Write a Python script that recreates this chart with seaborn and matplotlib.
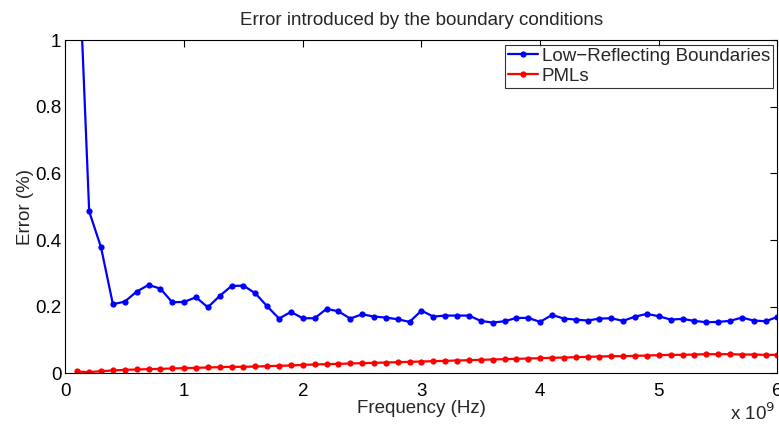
import numpy as np
import pandas as pd
import matplotlib
matplotlib.use("Agg")
import matplotlib.pyplot as plt
import seaborn as sns
from matplotlib.ticker import FuncFormatter, MultipleLocator

freq_ghz = [round(0.1 * i, 1) for i in range(1, 61)]
low_reflecting = [
    1.36, 0.486, 0.378, 0.207, 0.215, 0.245, 0.265, 0.254, 0.213, 0.214,
    0.228, 0.198, 0.232, 0.262, 0.263, 0.240, 0.201, 0.164, 0.184, 0.165,
    0.165, 0.193, 0.186, 0.164, 0.177, 0.170, 0.167, 0.162, 0.154, 0.188,
    0.170, 0.173, 0.173, 0.173, 0.157, 0.152, 0.156, 0.166, 0.166, 0.154,
    0.175, 0.164, 0.161, 0.158, 0.164, 0.165, 0.157, 0.170, 0.178, 0.171,
    0.161, 0.163, 0.157, 0.153, 0.154, 0.157, 0.167, 0.158, 0.156, 0.169,
]
pmls = [
    0.005, 0.003, 0.006, 0.008, 0.010, 0.011, 0.012, 0.013, 0.014, 0.015,
    0.016, 0.017, 0.018, 0.019, 0.019, 0.020, 0.021, 0.022, 0.023, 0.025,
    0.026, 0.027, 0.028, 0.029, 0.030, 0.031, 0.032, 0.033, 0.034, 0.035,
    0.036, 0.037, 0.038, 0.039, 0.040, 0.041, 0.042, 0.043, 0.044, 0.045,
    0.046, 0.047, 0.048, 0.049, 0.050, 0.051, 0.051, 0.052, 0.053, 0.054,
    0.055, 0.055, 0.056, 0.057, 0.057, 0.057, 0.056, 0.056, 0.055, 0.055,
]
series_names = ["Low\u2212Reflecting Boundaries", "PMLs"]
freq_hz = [f * 1e9 for f in freq_ghz]

df = pd.DataFrame({
    "Frequency": freq_hz * 2,
    "Error": low_reflecting + pmls,
    "Series": [series_names[0]] * len(freq_hz) + [series_names[1]] * len(freq_hz),
})

sns.set_style("white")
plt.rcParams["font.family"] = ["Liberation Sans", "DejaVu Sans"]
FS = 13.5

fig = plt.figure(figsize=(7.79, 4.25), dpi=100)
ax = fig.add_axes([0.084, 0.122, 0.914, 0.783])

sns.lineplot(data=df, x="Frequency", y="Error", hue="Series",
             palette=["#0000ff", "#ff0000"], marker="o", markersize=4.5,
             markeredgewidth=0, linewidth=1.6, ax=ax, legend=True)

ax.set_xlim(0, 6e9)
ax.set_ylim(0, 1)
ax.xaxis.set_major_locator(MultipleLocator(1e9))
ax.yaxis.set_major_locator(MultipleLocator(0.2))
ax.xaxis.set_major_formatter(FuncFormatter(lambda v, p: f"{v/1e9:g}"))
ax.yaxis.set_major_formatter(FuncFormatter(lambda v, p: f"{v:g}"))
ax.tick_params(direction="in", length=5, width=0.8, top=True, right=True,
               labelsize=FS, colors="black")
ax.tick_params(axis="x", pad=7)
ax.tick_params(axis="y", pad=3)
for s in ax.spines.values():
    s.set_color("black")
    s.set_linewidth(0.8)

ax.set_xlabel("Frequency (Hz)", fontsize=FS, labelpad=0)
ax.set_ylabel("Error (%)", fontsize=FS, labelpad=1)
ax.set_title("Error introduced by the boundary conditions", fontsize=FS, pad=11)
fig.text(0.937, 0.002, r"x 10$^{9}$", fontsize=FS, ha="left", va="bottom")

leg = ax.legend(loc="upper right", fontsize=FS, frameon=True, fancybox=False,
                borderaxespad=0.25, handlelength=1.6, handletextpad=0.2,
                borderpad=0.15, labelspacing=0.15)
leg.get_frame().set_edgecolor("black")
leg.get_frame().set_linewidth(0.8)

fig.savefig("out.png", dpi=100)
